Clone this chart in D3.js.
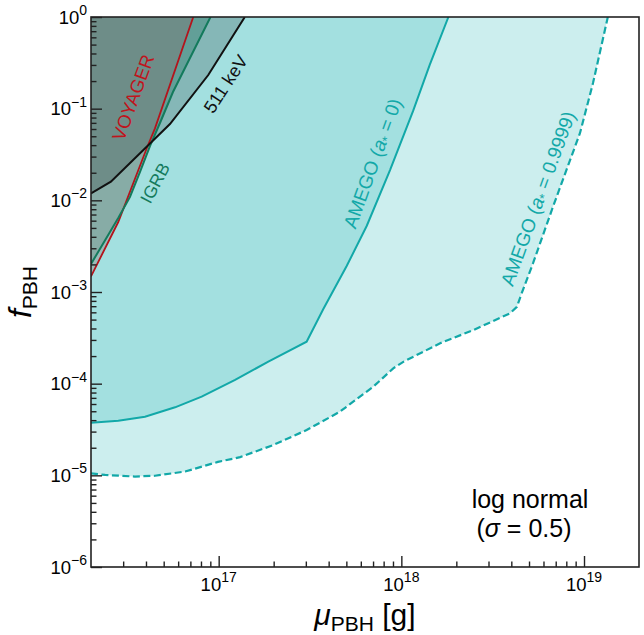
<!DOCTYPE html>
<html><head><meta charset="utf-8">
<script src="https://cdn.jsdelivr.net/npm/d3@7"></script>
<style>
body{margin:0;background:#fff}
svg{display:block}
text{font-family:"Liberation Sans",Arial,Helvetica,sans-serif}
</style>
</head><body>
<svg id="chart" width="644" height="635"></svg>
<script>
// ---- data (mass in g, f_PBH) ----
const massAmego9999 = [2.0e16, 2.39e16, 3.48e16, 4.48e16, 6.55e16, 9.9e16, 1.31e17, 1.99e17, 3.03e17, 4.61e17, 7.02e17, 9.03e17, 1.03e18, 1.63e18, 2.48e18, 3.94e18, 4.29e18, 4.56e18, 5.26e18, 6.76e18, 9.5e18, 1.12e19, 1.35e19];
const fAmego9999    = [1.05e-5, 1.01e-5, 9.7e-6, 9.9e-6, 1.10e-5, 1.40e-5, 1.58e-5, 2.14e-5, 3.12e-5, 4.95e-5, 9.27e-5, 1.47e-4, 1.74e-4, 2.76e-4, 3.85e-4, 5.86e-4, 6.9e-4, 9.7e-4, 2.06e-3, 8.5e-3, 5.4e-2, 0.19, 1.0];

const massAmego0 = [2.0e16, 2.82e16, 3.95e16, 5.77e16, 8.07e16, 1.23e17, 1.87e17, 3.03e17, 3.74e17, 5.02e17, 6.46e17, 8.67e17, 1.16e18, 1.43e18, 1.81e18];
const fAmego0    = [3.75e-5, 3.94e-5, 4.36e-5, 5.52e-5, 7.21e-5, 1.10e-4, 1.74e-4, 2.87e-4, 6.53e-4, 1.92e-3, 5.25e-3, 2.14e-2, 9.44e-2, 0.30, 1.0];

const mass511 = [2.0e16, 2.57e16, 4.29e16, 5.41e16, 8.77e16, 1.39e17];
const f511    = [1.19e-2, 1.60e-2, 4.33e-2, 6.8e-2, 0.233, 1.0];

const massIGRB = [2.0e16, 2.82e16, 3.27e16, 3.71e16, 4.21e16, 4.77e16, 5.62e16, 9.02e16];
const fIGRB    = [2.02e-3, 6.41e-3, 1.09e-2, 2.04e-2, 3.92e-2, 6.98e-2, 0.152, 1.0];

const massVoyager = [2.0e16, 2.82e16, 4.04e16, 4.48e16, 7.26e16];
const fVoyager    = [1.48e-3, 5.8e-3, 3.7e-2, 6.1e-2, 1.0];

const xMajorExps = [17, 18, 19];
const yMajorExps = [0, -1, -2, -3, -4, -5, -6];
const yTitleMain = "f", yTitleSub = "PBH";
const xTitleMain = "\u03bc", xTitleSub = "PBH", xTitleUnit = " [g]";
const noteLines = ["log normal", "(\u03c3 = 0.5)"];

// ---- layout ----
const svg = d3.select("#chart");
const L = 91, R = 639, T = 17, B = 567;
const x = d3.scaleLog().domain([2e16, 2e19]).range([L, R]);
const y = d3.scaleLog().domain([1e-6, 1]).range([B, T]);

svg.append("defs").append("clipPath").attr("id", "clip")
  .append("rect").attr("x", L).attr("y", T).attr("width", R - L).attr("height", B - T);
const plot = svg.append("g").attr("clip-path", "url(#clip)");

const zip = (ms, fs) => ms.map((m, i) => [m, fs[i]]);
const line = d3.line().x(d => x(d[0])).y(d => y(d[1]));
const regionAbove = (ms, fs) => { const p = zip(ms, fs); p.push([ms[ms.length - 1], 1], [ms[0], 1]); return line(p) + "Z"; };

// fills
plot.append("path").attr("d", regionAbove(massAmego9999, fAmego9999)).attr("fill", "rgba(0,170,170,0.2)");
plot.append("path").attr("d", regionAbove(massAmego0, fAmego0)).attr("fill", "rgba(0,170,170,0.2)");
plot.append("path").attr("d", regionAbove(massIGRB, fIGRB)).attr("fill", "rgba(10,120,90,0.28)");
plot.append("path").attr("d", regionAbove(massVoyager, fVoyager)).attr("fill", "rgba(150,150,145,0.5)");
plot.append("path").attr("d", regionAbove(mass511, f511)).attr("fill", "rgba(0,0,0,0.18)");

// lines
const teal = "#12a8a8";
plot.append("path").attr("d", line(zip(massAmego9999, fAmego9999))).attr("fill", "none")
  .attr("stroke", teal).attr("stroke-width", 2.2).attr("stroke-dasharray", "7,3.5");
plot.append("path").attr("d", line(zip(massAmego0, fAmego0))).attr("fill", "none")
  .attr("stroke", teal).attr("stroke-width", 2);
plot.append("path").attr("d", line(zip(massVoyager, fVoyager))).attr("fill", "none")
  .attr("stroke", "#b3141c").attr("stroke-width", 1.8);
plot.append("path").attr("d", line(zip(massIGRB, fIGRB))).attr("fill", "none")
  .attr("stroke", "#137a5c").attr("stroke-width", 2);
plot.append("path").attr("d", line(zip(mass511, f511))).attr("fill", "none")
  .attr("stroke", "#111").attr("stroke-width", 2);

// in-plot labels
function rotLabel(txt, cx, cy, ang, color, size) {
  const t = svg.append("text").attr("transform", `translate(${cx},${cy}) rotate(${ang})`)
    .attr("text-anchor", "middle").attr("y", size * 0.35).attr("fill", color).attr("font-size", size);
  return t.text(txt);
}
rotLabel("VOYAGER", 133, 97.5, -70, "#c0141c", 18.5);
rotLabel("IGRB", 155, 183, -62, "#137a5c", 17.5);
rotLabel("511 keV", 225.5, 84, -57, "#111", 18);

function amegoLabel(val, cx, cy) {
  const t = svg.append("text").attr("transform", `translate(${cx},${cy}) rotate(-70)`)
    .attr("text-anchor", "middle").attr("y", 19 * 0.35).attr("fill", teal).attr("font-size", 19);
  t.append("tspan").text("AMEGO (");
  t.append("tspan").attr("font-style", "italic").text("a");
  t.append("tspan").attr("font-size", 13).attr("dy", 3).text("*");
  t.append("tspan").attr("dy", -3).text(" = " + val + ")");
}
amegoLabel("0", 372.5, 163.3);
amegoLabel("0.9999", 538, 198.5);

// note
svg.append("text").attr("x", 530).attr("y", 508).attr("text-anchor", "middle").attr("font-size", 25).text(noteLines[0]);
const n2 = svg.append("text").attr("x", 524).attr("y", 537).attr("text-anchor", "middle").attr("font-size", 25);
n2.append("tspan").text("(");
n2.append("tspan").attr("font-style", "italic").text("\u03c3");
n2.append("tspan").text(" = 0.5)");

// axes
const axisColor = "#222";
const xMajor = xMajorExps.map(e => Math.pow(10, e));
const xMinor = [];
for (let e = 16; e <= 19; e++) for (let k = 2; k <= 9; k++) { const v = k * Math.pow(10, e); if (v > 2e16 && v < 2e19) xMinor.push(v); }
const yMajor = yMajorExps.map(e => Math.pow(10, e));
const yMinor = [];
for (let e = -6; e < 0; e++) for (let k = 2; k <= 9; k++) yMinor.push(k * Math.pow(10, e));

function styleAxis(g) { g.select(".domain").remove(); g.selectAll(".tick line").attr("stroke", axisColor).attr("stroke-width", 1.4); g.selectAll(".tick text").remove(); }
svg.append("g").attr("transform", `translate(0,${B})`).call(d3.axisBottom(x).tickValues(xMajor).tickSize(-11).tickFormat("")).call(styleAxis);
svg.append("g").attr("transform", `translate(0,${B})`).call(d3.axisBottom(x).tickValues(xMinor).tickSize(-5.5).tickFormat("")).call(styleAxis);
svg.append("g").attr("transform", `translate(${L},0)`).call(d3.axisLeft(y).tickValues(yMajor).tickSize(-11).tickFormat("")).call(styleAxis);
svg.append("g").attr("transform", `translate(${L},0)`).call(d3.axisLeft(y).tickValues(yMinor).tickSize(-5.5).tickFormat("")).call(styleAxis);

svg.append("rect").attr("x", L).attr("y", T).attr("width", R - L).attr("height", B - T)
  .attr("fill", "none").attr("stroke", axisColor).attr("stroke-width", 1.6);

const fmtExp = e => (e < 0 ? "\u2212" + (-e) : "" + e);
xMajorExps.forEach(e => {
  const t = svg.append("text").attr("x", x(Math.pow(10, e))).attr("y", 591).attr("text-anchor", "middle").attr("font-size", 18.5);
  t.append("tspan").text("10");
  t.append("tspan").attr("font-size", 14).attr("dy", -9).text(fmtExp(e));
});
yMajorExps.forEach(e => {
  const t = svg.append("text").attr("x", 87).attr("y", y(Math.pow(10, e)) + 6.5).attr("text-anchor", "end").attr("font-size", 18.5);
  t.append("tspan").text("10");
  t.append("tspan").attr("font-size", 14).attr("dy", -8.5).text(fmtExp(e));
});

// titles
const xt = svg.append("text").attr("x", (L + R) / 2).attr("y", 625).attr("text-anchor", "middle").attr("font-size", 30);
xt.append("tspan").attr("font-style", "italic").text(xTitleMain);
xt.append("tspan").attr("font-size", 21).attr("dy", 6).text(xTitleSub);
xt.append("tspan").attr("dy", -6).text(xTitleUnit);

const yt = svg.append("text").attr("transform", `translate(31,${(T + B) / 2}) rotate(-90)`).attr("text-anchor", "middle").attr("font-size", 32);
yt.append("tspan").attr("font-style", "italic").text(yTitleMain);
yt.append("tspan").attr("font-size", 21).attr("dy", 6).text(yTitleSub);
</script>
</body></html>
